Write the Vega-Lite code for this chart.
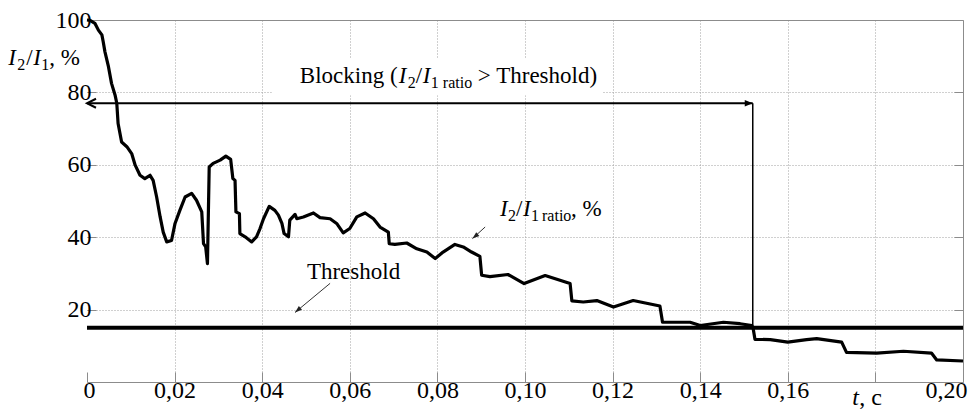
{
  "$schema": "https://vega.github.io/schema/vega-lite/v6.json",
  "width": 876,
  "height": 362,
  "autosize": "none",
  "padding": {"left": 87, "top": 20, "right": 10, "bottom": 30},
  "background": "white",
  "config": {"view": {"stroke": null}, "font": "'Liberation Serif', 'Times New Roman', 'DejaVu Serif', serif", "text": {"font": "'Liberation Serif', 'Times New Roman', 'DejaVu Serif', serif"}},
  "datasets": {
    "curve": [
      {"t": 0, "v": 100}, {"t": 0.0007, "v": 99.9}, {"t": 0.0018, "v": 99.1}, {"t": 0.0026, "v": 97.2},
      {"t": 0.0034, "v": 95.9}, {"t": 0.0037, "v": 94.0}, {"t": 0.0041, "v": 91.2}, {"t": 0.0049, "v": 87.1},
      {"t": 0.0056, "v": 82.5}, {"t": 0.0064, "v": 79.3}, {"t": 0.0068, "v": 77.0}, {"t": 0.0071, "v": 71.4},
      {"t": 0.0079, "v": 66.3}, {"t": 0.0091, "v": 65.0}, {"t": 0.0102, "v": 63.1}, {"t": 0.011, "v": 59.9},
      {"t": 0.0121, "v": 57.1}, {"t": 0.0132, "v": 56.2}, {"t": 0.0144, "v": 57.1}, {"t": 0.0151, "v": 55.7},
      {"t": 0.0159, "v": 51.1}, {"t": 0.0167, "v": 45.6}, {"t": 0.0174, "v": 41.4}, {"t": 0.0182, "v": 38.7},
      {"t": 0.0193, "v": 39.1}, {"t": 0.0201, "v": 43.8}, {"t": 0.0212, "v": 47.4}, {"t": 0.0224, "v": 51.1},
      {"t": 0.0239, "v": 52.1}, {"t": 0.025, "v": 50.2}, {"t": 0.0262, "v": 47.0}, {"t": 0.0266, "v": 38.2},
      {"t": 0.0271, "v": 37.3}, {"t": 0.0275, "v": 32.7}, {"t": 0.0279, "v": 59.4}, {"t": 0.0288, "v": 60.4},
      {"t": 0.0304, "v": 61.3}, {"t": 0.0317, "v": 62.4}, {"t": 0.0328, "v": 61.5}, {"t": 0.0333, "v": 56.2},
      {"t": 0.0338, "v": 55.7}, {"t": 0.034, "v": 47.0}, {"t": 0.0348, "v": 46.5}, {"t": 0.0349, "v": 41.0},
      {"t": 0.0361, "v": 40.1}, {"t": 0.0376, "v": 38.7}, {"t": 0.0387, "v": 40.1}, {"t": 0.0395, "v": 42.4},
      {"t": 0.0403, "v": 45.1}, {"t": 0.0416, "v": 48.5}, {"t": 0.0429, "v": 47.4}, {"t": 0.0437, "v": 46.1},
      {"t": 0.0445, "v": 43.8}, {"t": 0.045, "v": 41.0}, {"t": 0.046, "v": 40.1}, {"t": 0.0463, "v": 44.7},
      {"t": 0.0475, "v": 46.3}, {"t": 0.0479, "v": 45.1}, {"t": 0.0494, "v": 45.6}, {"t": 0.0517, "v": 46.7},
      {"t": 0.0532, "v": 45.4}, {"t": 0.0555, "v": 45.1}, {"t": 0.057, "v": 43.8}, {"t": 0.0585, "v": 41.2},
      {"t": 0.06, "v": 42.4}, {"t": 0.0616, "v": 45.6}, {"t": 0.0635, "v": 46.7}, {"t": 0.0654, "v": 45.1},
      {"t": 0.0669, "v": 42.8}, {"t": 0.0688, "v": 41.4}, {"t": 0.069, "v": 38.2}, {"t": 0.0703, "v": 38.0},
      {"t": 0.073, "v": 38.4}, {"t": 0.0753, "v": 36.8}, {"t": 0.0776, "v": 35.9}, {"t": 0.0795, "v": 34.1},
      {"t": 0.0813, "v": 35.9}, {"t": 0.084, "v": 38.0}, {"t": 0.0859, "v": 37.3}, {"t": 0.0878, "v": 35.9},
      {"t": 0.0897, "v": 34.7}, {"t": 0.0901, "v": 29.5}, {"t": 0.092, "v": 29.1}, {"t": 0.0961, "v": 29.7},
      {"t": 0.0998, "v": 27.2}, {"t": 0.1046, "v": 29.4}, {"t": 0.1103, "v": 27.2}, {"t": 0.1107, "v": 22.4},
      {"t": 0.1133, "v": 22.1}, {"t": 0.1164, "v": 22.5}, {"t": 0.1202, "v": 20.7}, {"t": 0.1247, "v": 22.5},
      {"t": 0.1308, "v": 21.0}, {"t": 0.1314, "v": 16.5}, {"t": 0.1339, "v": 16.5}, {"t": 0.1377, "v": 16.5},
      {"t": 0.14, "v": 15.6}, {"t": 0.1453, "v": 16.5}, {"t": 0.1491, "v": 16.1}, {"t": 0.1518, "v": 15.6},
      {"t": 0.1521, "v": 14.7}, {"t": 0.1525, "v": 11.8}, {"t": 0.156, "v": 11.7}, {"t": 0.16, "v": 11.0},
      {"t": 0.1643, "v": 11.7}, {"t": 0.1666, "v": 12.0}, {"t": 0.1723, "v": 11.0}, {"t": 0.1734, "v": 8.2},
      {"t": 0.1803, "v": 8.0}, {"t": 0.1864, "v": 8.5}, {"t": 0.1928, "v": 8.0}, {"t": 0.194, "v": 6.1},
      {"t": 0.2, "v": 5.8}
    ],
    "threshold": [{"t": 0, "v": 15}, {"t": 0.2, "v": 15}],
    "blocking": [{"t": 0, "v": 77}, {"t": 0.152, "v": 77}],
    "vertical": [{"t": 0.152, "v": 77}, {"t": 0.152, "v": 15}],
    "pointers": [
      {"id": "thr", "t": 0.0555, "v": 27.25, "t2": 0.0475, "v2": 19.22},
      {"id": "ratio", "t": 0.0909, "v": 42.82, "t2": 0.088, "v2": 39.61}
    ],
    "anchors": [
      {"id": "ytitle", "t": -0.018, "v": 87.55},
      {"id": "block", "t": 0.0486, "v": 82.57},
      {"id": "thr", "t": 0.0502, "v": 28.35},
      {"id": "ratio", "t": 0.0943, "v": 45.92},
      {"id": "xtitle", "t": 0.1747, "v": -6.4},
      {"id": "mask", "t": 0.0422, "v": 79.2, "t2": 0.1178, "v2": 89.5}
    ]
  },
  "layer": [
    {
      "data": {"name": "curve"},
      "mark": {"type": "line", "color": "#000", "strokeWidth": 3.2, "strokeJoin": "round"},
      "encoding": {
        "x": {
          "field": "t", "type": "quantitative",
          "scale": {"domain": [0, 0.2], "nice": false, "zero": false},
          "axis": {
            "orient": "bottom", "title": null,
            "values": [0, 0.02, 0.04, 0.06, 0.08, 0.1, 0.12, 0.14, 0.16, 0.18, 0.2],
            "labelExpr": "(datum.value > 0.179 && datum.value < 0.181) ? '' : (datum.value < 0.001 ? '0' : replace(format(datum.value, '.2f'), '.', ','))",
            "grid": true, "gridDash": [1, 2], "gridColor": "#a0a0a0",
            "gridOpacity": {"condition": {"test": "datum.value < 0.001 || datum.value > 0.199", "value": 0}, "value": 1},
            "domainColor": "#8c8c8c", "tickColor": "#8c8c8c", "tickSize": -10,
            "labelFont": "Liberation Serif", "labelFontSize": 24, "labelColor": "#000",
            "labelPadding": 6, "labelFlush": true, "labelFlushOffset": 4
          }
        },
        "y": {
          "field": "v", "type": "quantitative",
          "scale": {"domain": [0, 100], "nice": false},
          "axis": {
            "orient": "left", "title": null, "values": [20, 40, 60, 80, 100],
            "grid": true, "gridDash": [1, 2], "gridColor": "#a0a0a0",
            "domain": false, "tickColor": "#8c8c8c", "tickSize": -9,
            "labelFont": "Liberation Serif", "labelFontSize": 24, "labelColor": "#000",
            "labelPadding": 5
          }
        }
      }
    },
    {
      "data": {"name": "threshold"},
      "mark": {"type": "line", "color": "#000", "strokeWidth": 4},
      "encoding": {
        "x": {"field": "t", "type": "quantitative", "axis": {"orient": "top", "labels": false, "ticks": false, "grid": false, "domainColor": "#8c8c8c", "title": null}},
        "y": {"field": "v", "type": "quantitative", "axis": {"orient": "right", "labels": false, "grid": false, "domainColor": "#8c8c8c", "tickColor": "#8c8c8c", "tickSize": -9, "values": [20, 40, 60, 80, 100], "title": null}}
      }
    },
    {
      "data": {"name": "anchors"},
      "transform": [{"filter": "datum.id == 'mask'"}],
      "mark": {"type": "rect", "color": "white"},
      "encoding": {
        "x": {"field": "t", "type": "quantitative", "axis": null},
        "x2": {"field": "t2"},
        "y": {"field": "v", "type": "quantitative", "axis": null},
        "y2": {"field": "v2"}
      }
    },
    {
      "data": {"name": "blocking"},
      "mark": {"type": "line", "color": "#000", "strokeWidth": 2},
      "encoding": {
        "x": {"field": "t", "type": "quantitative", "axis": null},
        "y": {"field": "v", "type": "quantitative", "axis": null}
      }
    },
    {
      "data": {"name": "vertical"},
      "mark": {"type": "line", "color": "#000", "strokeWidth": 1.5},
      "encoding": {
        "x": {"field": "t", "type": "quantitative", "axis": null},
        "y": {"field": "v", "type": "quantitative", "axis": null}
      }
    },
    {
      "data": {"name": "blocking"},
      "transform": [{"filter": "datum.t < 0.01"}],
      "mark": {"type": "point", "shape": "M 2 -1 L 0 0 L 2 1", "size": 81, "filled": false, "stroke": "#000", "strokeWidth": 2, "opacity": 1},
      "encoding": {
        "x": {"field": "t", "type": "quantitative", "axis": null},
        "y": {"field": "v", "type": "quantitative", "axis": null}
      }
    },
    {
      "data": {"name": "blocking"},
      "transform": [{"filter": "datum.t > 0.01"}],
      "mark": {"type": "point", "shape": "M -2 -0.8 L 0 0 L -2 0.8 Z", "size": 64, "filled": true, "color": "#000", "opacity": 1},
      "encoding": {
        "x": {"field": "t", "type": "quantitative", "axis": null},
        "y": {"field": "v", "type": "quantitative", "axis": null}
      }
    },
    {
      "data": {"name": "pointers"},
      "mark": {"type": "rule", "color": "#333", "strokeWidth": 1},
      "encoding": {
        "x": {"field": "t", "type": "quantitative", "axis": null},
        "y": {"field": "v", "type": "quantitative", "axis": null},
        "x2": {"field": "t2"},
        "y2": {"field": "v2"}
      }
    },
    {
      "data": {"name": "pointers"},
      "mark": {"type": "point", "shape": "M -2 -0.7 L 0 0 L -2 0.7 Z", "size": 49, "filled": true, "color": "#222", "opacity": 1, "angle": 140},
      "encoding": {
        "x": {"field": "t2", "type": "quantitative", "axis": null},
        "y": {"field": "v2", "type": "quantitative", "axis": null}
      }
    },
    {
      "data": {"name": "anchors"},
      "transform": [{"filter": "datum.id == 'ytitle'"}],
      "layer": [
        {"mark": {"type": "text", "text": "I", "fontStyle": "italic", "fontSize": 23, "align": "left", "baseline": "alphabetic", "dx": 0}},
        {"mark": {"type": "text", "text": "2", "fontSize": 16, "align": "left", "baseline": "alphabetic", "dx": 9, "dy": 5}},
        {"mark": {"type": "text", "text": "/", "fontSize": 23, "align": "left", "baseline": "alphabetic", "dx": 18}},
        {"mark": {"type": "text", "text": "I", "fontStyle": "italic", "fontSize": 23, "align": "left", "baseline": "alphabetic", "dx": 25}},
        {"mark": {"type": "text", "text": "1", "fontSize": 16, "align": "left", "baseline": "alphabetic", "dx": 33, "dy": 5}},
        {"mark": {"type": "text", "text": ", %", "fontSize": 23, "align": "left", "baseline": "alphabetic", "dx": 41}}
      ],
      "encoding": {
        "x": {"field": "t", "type": "quantitative", "axis": null},
        "y": {"field": "v", "type": "quantitative", "axis": null}
      }
    },
    {
      "data": {"name": "anchors"},
      "transform": [{"filter": "datum.id == 'block'"}],
      "layer": [
        {"mark": {"type": "text", "text": "Blocking (", "fontSize": 23, "align": "left", "baseline": "alphabetic", "dx": 0}},
        {"mark": {"type": "text", "text": "I", "fontStyle": "italic", "fontSize": 23, "align": "left", "baseline": "alphabetic", "dx": 99}},
        {"mark": {"type": "text", "text": "2", "fontSize": 16, "align": "left", "baseline": "alphabetic", "dx": 108, "dy": 5}},
        {"mark": {"type": "text", "text": "/", "fontSize": 23, "align": "left", "baseline": "alphabetic", "dx": 116}},
        {"mark": {"type": "text", "text": "I", "fontStyle": "italic", "fontSize": 23, "align": "left", "baseline": "alphabetic", "dx": 123}},
        {"mark": {"type": "text", "text": "1", "fontSize": 16, "align": "left", "baseline": "alphabetic", "dx": 131, "dy": 5}},
        {"mark": {"type": "text", "text": "ratio", "fontSize": 16, "align": "left", "baseline": "alphabetic", "dx": 143, "dy": 5}},
        {"mark": {"type": "text", "text": "> Threshold)", "fontSize": 23, "align": "left", "baseline": "alphabetic", "dx": 178}}
      ],
      "encoding": {
        "x": {"field": "t", "type": "quantitative", "axis": null},
        "y": {"field": "v", "type": "quantitative", "axis": null}
      }
    },
    {
      "data": {"name": "anchors"},
      "transform": [{"filter": "datum.id == 'thr'"}],
      "mark": {"type": "text", "text": "Threshold", "fontSize": 23, "align": "left", "baseline": "alphabetic"},
      "encoding": {
        "x": {"field": "t", "type": "quantitative", "axis": null},
        "y": {"field": "v", "type": "quantitative", "axis": null}
      }
    },
    {
      "data": {"name": "anchors"},
      "transform": [{"filter": "datum.id == 'ratio'"}],
      "layer": [
        {"mark": {"type": "text", "text": "I", "fontStyle": "italic", "fontSize": 23, "align": "left", "baseline": "alphabetic", "dx": 0}},
        {"mark": {"type": "text", "text": "2", "fontSize": 16, "align": "left", "baseline": "alphabetic", "dx": 8, "dy": 5}},
        {"mark": {"type": "text", "text": "/", "fontSize": 23, "align": "left", "baseline": "alphabetic", "dx": 16}},
        {"mark": {"type": "text", "text": "I", "fontStyle": "italic", "fontSize": 23, "align": "left", "baseline": "alphabetic", "dx": 23}},
        {"mark": {"type": "text", "text": "1", "fontSize": 16, "align": "left", "baseline": "alphabetic", "dx": 31, "dy": 5}},
        {"mark": {"type": "text", "text": "ratio", "fontSize": 16, "align": "left", "baseline": "alphabetic", "dx": 42, "dy": 5}},
        {"mark": {"type": "text", "text": ", %", "fontSize": 23, "align": "left", "baseline": "alphabetic", "dx": 71}}
      ],
      "encoding": {
        "x": {"field": "t", "type": "quantitative", "axis": null},
        "y": {"field": "v", "type": "quantitative", "axis": null}
      }
    },
    {
      "data": {"name": "anchors"},
      "transform": [{"filter": "datum.id == 'xtitle'"}],
      "layer": [
        {"mark": {"type": "text", "text": "t", "fontStyle": "italic", "fontSize": 24, "align": "left", "baseline": "alphabetic", "dx": 0}},
        {"mark": {"type": "text", "text": ", c", "fontSize": 24, "align": "left", "baseline": "alphabetic", "dx": 7}}
      ],
      "encoding": {
        "x": {"field": "t", "type": "quantitative", "axis": null},
        "y": {"field": "v", "type": "quantitative", "axis": null}
      }
    }
  ]
}
